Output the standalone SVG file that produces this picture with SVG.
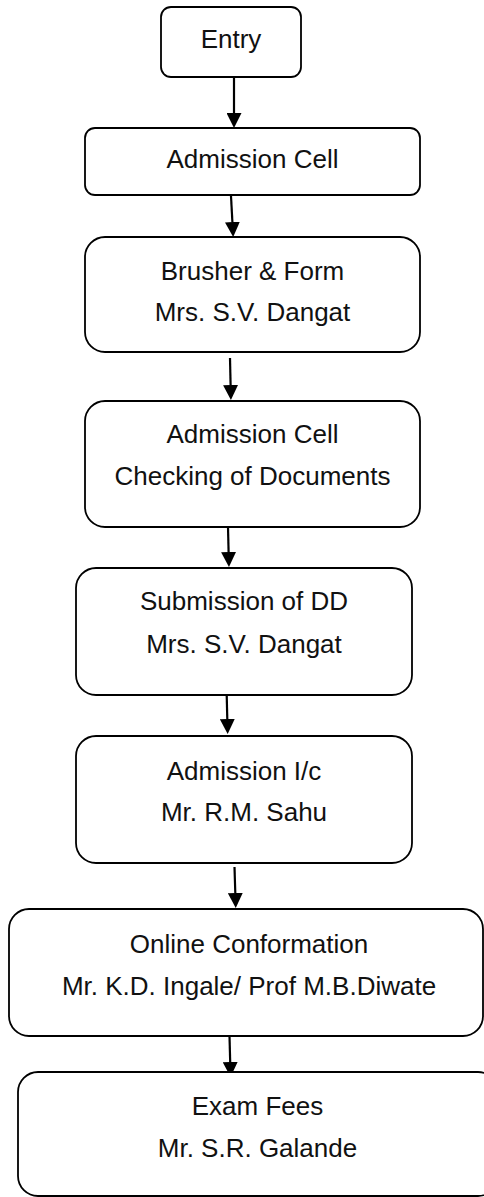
<svg xmlns="http://www.w3.org/2000/svg" width="484" height="1197" viewBox="0 0 484 1197">
<style>
.box{fill:#fff;stroke:#000;stroke-width:1.8}
.lbl{font-family:"Liberation Sans",Arial,sans-serif;font-size:26px;fill:#111;text-anchor:middle}
.conn{stroke:#000;stroke-width:2.2;fill:none}
</style>
<defs>
<marker id="ah" viewBox="0 0 15 15" refX="0" refY="7.5" markerWidth="15" markerHeight="15" markerUnits="userSpaceOnUse" orient="auto">
<path d="M0,0 L15,7.5 L0,15 z" fill="#000"/>
</marker>
</defs>
<rect width="484" height="1197" fill="#fff"/>
<g id="connectors">
<line class="conn" x1="234" y1="77" x2="234" y2="113" marker-end="url(#ah)"/>
<line class="conn" x1="231" y1="196" x2="232.4" y2="222" marker-end="url(#ah)"/>
<line class="conn" x1="230" y1="358" x2="230.6" y2="385" marker-end="url(#ah)"/>
<line class="conn" x1="228" y1="527" x2="228.6" y2="552" marker-end="url(#ah)"/>
<line class="conn" x1="226.7" y1="695" x2="227.3" y2="719" marker-end="url(#ah)"/>
<line class="conn" x1="234.5" y1="867" x2="235.3" y2="893" marker-end="url(#ah)"/>
<line class="conn" x1="229.5" y1="1036" x2="230.2" y2="1062" marker-end="url(#ah)"/>
</g>
<g id="n1">
<rect class="box" x="161" y="7" width="140" height="70" rx="10"/>
<text class="lbl" x="231" y="48">Entry</text>
</g>
<g id="n2">
<rect class="box" x="85" y="128" width="335" height="67" rx="10"/>
<text class="lbl" x="252.5" y="168">Admission Cell</text>
</g>
<g id="n3">
<rect class="box" x="85" y="237" width="335" height="115" rx="20"/>
<text class="lbl" x="252.5" y="280">Brusher &amp; Form</text>
<text class="lbl" x="252.5" y="321">Mrs. S.V. Dangat</text>
</g>
<g id="n4">
<rect class="box" x="85" y="401" width="335" height="126" rx="20"/>
<text class="lbl" x="252.5" y="443">Admission Cell</text>
<text class="lbl" x="252.5" y="485">Checking of Documents</text>
</g>
<g id="n5">
<rect class="box" x="76" y="568" width="336" height="127" rx="20"/>
<text class="lbl" x="244" y="610">Submission of DD</text>
<text class="lbl" x="244" y="653">Mrs. S.V. Dangat</text>
</g>
<g id="n6">
<rect class="box" x="76" y="736" width="336" height="127" rx="20"/>
<text class="lbl" x="244" y="780">Admission I/c</text>
<text class="lbl" x="244" y="821">Mr. R.M. Sahu</text>
</g>
<g id="n7">
<rect class="box" x="9" y="909" width="474" height="127" rx="20"/>
<text class="lbl" x="249" y="953">Online Conformation</text>
<text class="lbl" x="249" y="995">Mr. K.D. Ingale/ Prof M.B.Diwate</text>
</g>
<g id="n8">
<rect class="box" x="18" y="1072" width="480" height="124" rx="20"/>
<text class="lbl" x="257.5" y="1115">Exam Fees</text>
<text class="lbl" x="257.5" y="1157">Mr. S.R. Galande</text>
</g>
</svg>
